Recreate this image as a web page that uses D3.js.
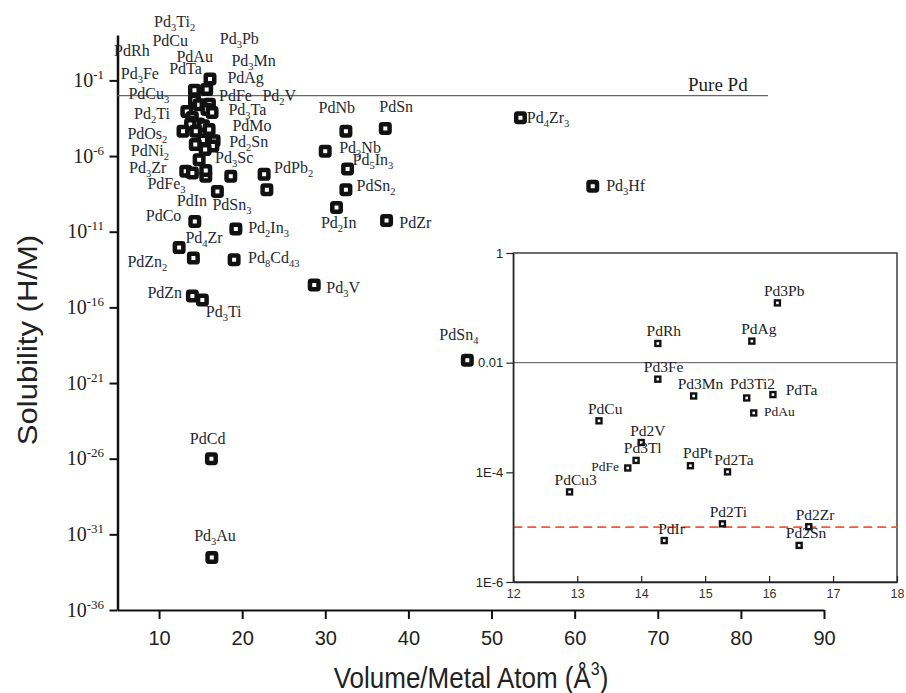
<!DOCTYPE html>
<html>
<head>
<meta charset="utf-8">
<script src="https://cdn.jsdelivr.net/npm/d3@7"></script>
<style>
  body { margin: 0; background: #fff; }
  svg { display: block; }
</style>
</head>
<body>
<div id="chart"></div>
<script>
// ---- data (inset compounds, also plotted in the main panel) ----
const insetNames = ["Pd3Pb","PdAg","PdRh","Pd3Fe","Pd3Mn","Pd3Ti2","PdTa","PdAu","PdCu","Pd2V",
                    "Pd3Tl","PdFe","PdPt","Pd2Ta","PdCu3","Pd2Ti","PdIr","Pd2Zr","Pd2Sn"];
const insetVolume = [16.13,15.73,14.26,14.26,14.82,15.65,16.06,15.76,13.34,14.00,
                     13.92,13.79,14.77,15.35,12.88,15.27,14.36,16.62,16.47];
const insetSolubility = [0.123,0.0247,0.0224,0.0050,0.00247,0.00227,0.00262,0.00121,8.7e-4,3.5e-4,
                         1.65e-4,1.2e-4,1.32e-4,1.02e-4,4.4e-5,1.15e-5,5.7e-6,1.02e-5,4.65e-6];

// ---- data (compounds only in the main panel), null = unlabelled point ----
const otherNames = ["PdOs2","PdNi2","Pd3Ta","PdMo","Pd3Sc","Pd3Zr","PdFe3","PdIn",null,null,
                    "PdSn3","PdPb2",null,"PdCo","Pd2In3","Pd4Zr","PdZn2","Pd8Cd43","PdZn","Pd3Ti",
                    "Pd3V","PdNb","PdSn","Pd3Nb","Pd5In3","PdSn2","Pd2In","PdZr","Pd4Zr3","Pd3Hf",
                    "PdSn4","PdCd","Pd3Au"];
const otherVolume = [14.42,15.54,16.38,16.02,14.82,13.21,14.01,15.62,15.62,18.63,
                     17.02,22.64,22.97,14.30,19.24,14.13,12.41,19.03,14.01,15.21,
                     28.67,32.48,37.22,29.99,32.68,32.48,31.35,37.37,53.48,62.18,
                     47.09,16.30,16.35];
const otherSolubility = [4.4e-5,2.7e-6,7.6e-4,5.6e-5,5.8e-7,1.0e-7,7.6e-8,4.6e-8,1.1e-7,4.6e-8,
                         4.6e-9,6.2e-8,6e-9,4.8e-11,1.5e-11,1.8e-13,8.9e-13,1.4e-13,5.6e-16,3.1e-16,
                         3e-15,4.4e-5,6.6e-5,2.1e-6,1.4e-7,6e-9,4e-10,5.5e-11,3.4e-4,1e-8,
                         3.2e-20,1e-26,3e-33];

const pureSolubility = 0.01;      // Pure Pd
const dashedSolubility = 1e-5;    // red reference in the inset

const xTicksMain = [10,20,30,40,50,60,70,80,90];
const yExpMain = [-1,-6,-11,-16,-21,-26,-31,-36];
const xTicksInset = [12,13,14,15,16,17,18];
const yTicksInset = [1, 0.01, 1e-4, 1e-6];
const yTickLabelsInset = ["1","0.01","1E-4","1E-6"];

// ---- label layout: offset of label start/baseline from marker (px) ----
const mainLabelPos = {
  Pd3Pb:[9.8,-34.9], PdRh:[-80.4,-34.1], PdAg:[20.7,-6.9], Pd3Fe:[-73.7,-21.3], PdTa:[-40.3,-30.6],
  Pd3Ti2:[-51.9,-78.1], Pd3Mn:[32.3,-39.2], PdAu:[-30.5,-47.3], PdCu:[-34.4,-65.9], Pd2V:[70.1,-16.9],
  PdFe:[28.5,-23.9], PdCu3:[-54.6,-32.6], Pd2Ti:[-68.8,-21.5], Pd2Sn:[16.3,0.6],
  PdOs2:[-68.4,8.3], PdNi2:[-74.3,6], Pd3Ta:[16.3,3], PdMo:[23.3,1.7], Pd3Sc:[16,3.3],
  Pd3Zr:[-56.7,2], PdFe3:[-45,16], PdIn:[-29,30], PdSn3:[-5,18.3], PdPb2:[10,-1.4],
  PdCo:[-49,0], Pd2In3:[12.3,4], Pd4Zr:[-8,-15.6], PdZn2:[-51.7,19], Pd8Cd43:[14,3.3],
  PdZn:[-45,2.3], Pd3Ti:[3.4,16.7], Pd3V:[12,8], PdNb:[-27.4,-18.4], PdSn:[-6,-16.3],
  Pd3Nb:[14,1.6], Pd5In3:[5,-4.3], PdSn2:[10.6,1], Pd2In:[-15.6,20.6], PdZr:[12.7,7.6],
  Pd4Zr3:[6.3,5], Pd3Hf:[13.4,5], PdSn4:[-28,-20], PdCd:[-21.6,-15], Pd3Au:[-17.7,-16.7]
};
const insetLabelPos = {
  Pd3Pb:[-13.4,-6.6], PdAg:[-10.6,-6.7], PdRh:[-11.3,-7.3], Pd3Fe:[-14,-6.7], Pd3Mn:[-16,-6.7],
  Pd3Ti2:[-16.7,-8.7], PdTa:[12.7,0.7], PdAu:[10.3,3,"start",13.5], PdCu:[-11,-6.7], Pd2V:[-11,-6.6],
  Pd3Tl:[-12.3,-7], PdFe:[-8.7,3.3,"end",13.5], PdPt:[-7.4,-7.4], Pd2Ta:[-13.4,-6.7],
  PdCu3:[-15,-6.7], Pd2Ti:[-12.7,-6.7], PdIr:[-6,-6.7], Pd2Zr:[-13,-6.7], Pd2Sn:[-13.3,-7.4]
};

const W = 906, H = 693;
const serif = "'Liberation Serif', 'DejaVu Serif', serif";
const sans = "'Liberation Sans', Arial, sans-serif";
const labelColor = "#1e2833";

const svg = d3.select("#chart").append("svg")
    .attr("width", W)
    .attr("height", H);

// scales
const x = d3.scaleLinear().domain([5, 90]).range([117.5, 824]);
const y = d3.scaleLog().domain([1e-36, 1e2]).range([610, 35]);
const xi = d3.scaleLinear().domain([12, 18]).range([513.3, 897]);
const yi = d3.scaleLog().domain([1e-6, 1]).range([582, 253]);

// rows
const insetData = insetNames.map((n, i) => ({name: n, v: insetVolume[i], s: insetSolubility[i]}));
const otherData = otherNames.map((n, i) => ({name: n, v: otherVolume[i], s: otherSolubility[i]}));
const mainData = insetData.concat(otherData);

// chemical formula with subscripted digits
function chem(text, str, size, subSize, shift) {
    let down = false;
    str.match(/[A-Za-z]+|\d+/g).forEach(p => {
        let t = text.append("tspan").text(p);
        if (/^\d/.test(p)) {
            t.attr("font-size", subSize).attr("dy", down ? 0 : shift);
            down = true;
        } else {
            t.attr("font-size", size);
            if (down) { t.attr("dy", -shift); down = false; }
        }
    });
}

// ---- main axes ----
let gx = svg.append("g").attr("transform", "translate(0,610)");
gx.call(d3.axisBottom(x).tickValues(d3.range(15, 90, 10)).tickSize(5).tickSizeOuter(0).tickFormat(""));
gx.call(d3.axisBottom(x).tickValues(xTicksMain).tickSize(9).tickSizeOuter(0).tickPadding(12)
    .tickFormat(d3.format("d")));
gx.selectAll("path.domain").attr("stroke", "#111").attr("stroke-width", 2);
gx.selectAll(".tick line").attr("stroke", "#111").attr("stroke-width", 2);
gx.selectAll(".tick text")
    .attr("font-family", sans).attr("font-size", 20).attr("fill", "#222");

let gy = svg.append("g").attr("transform", "translate(117.5,0)");
gy.call(d3.axisLeft(y).tickValues(d3.range(-36, 3).map(e => Math.pow(10, e))).tickSize(4).tickSizeOuter(0).tickFormat(""));
gy.call(d3.axisLeft(y).tickValues(yExpMain.map(e => Math.pow(10, e))).tickSize(8).tickSizeOuter(0).tickPadding(5.5));
gy.selectAll("path.domain").attr("stroke", "#111").attr("stroke-width", 2.5);
gy.selectAll(".tick line").attr("stroke", "#111").attr("stroke-width", 2);
gy.selectAll(".tick text").each(function(d) {
    let t = d3.select(this);
    if (t.text() === "") return;
    t.text(null).attr("dy", null).attr("y", 6)
        .attr("font-family", serif).attr("fill", "#222");
    t.append("tspan").attr("font-size", 20).text("10");
    t.append("tspan").attr("font-size", 13).attr("dy", -8).text(Math.round(Math.log10(d)));
});

// axis titles
svg.append("g")
    .attr("transform", "translate(471,688) scale(1,1.15)")
    .append("text")
    .attr("text-anchor", "middle")
    .attr("font-family", sans).attr("font-size", 26).attr("fill", "#222")
    .call(t => {
        t.append("tspan").text("Volume/Metal Atom (Å");
        t.append("tspan").attr("font-size", 16).attr("dy", -11).text("3");
        t.append("tspan").attr("dy", 11).text(")");
    });

svg.append("g")
    .attr("transform", "translate(28,340) rotate(-90) scale(1.15,1)")
    .append("text")
    .attr("text-anchor", "middle")
    .attr("y", 9)
    .attr("font-family", sans).attr("font-size", 27).attr("fill", "#222")
    .text("Solubility (H/M)");

// Pure Pd line
svg.append("line")
    .attr("x1", x(5)).attr("x2", 768)
    .attr("y1", y(pureSolubility)).attr("y2", y(pureSolubility))
    .attr("stroke", "#666").attr("stroke-width", 1.2);
svg.append("text")
    .attr("x", 688).attr("y", y(pureSolubility) - 5)
    .attr("font-family", serif).attr("font-size", 19).attr("fill", "#222")
    .text("Pure Pd");

// main markers
svg.append("g").selectAll("rect")
    .data(mainData)
    .enter()
    .append("rect")
    .attr("x", d => x(d.v) - 4.25)
    .attr("y", d => y(d.s) - 4.25)
    .attr("width", 8.5).attr("height", 8.5)
    .attr("rx", 1.2)
    .attr("fill", "#fff").attr("stroke", "#111").attr("stroke-width", 4.5);

// main labels
svg.append("g").selectAll("text")
    .data(mainData.filter(d => d.name && mainLabelPos[d.name]))
    .enter()
    .append("text")
    .attr("x", d => x(d.v) + mainLabelPos[d.name][0])
    .attr("y", d => y(d.s) + mainLabelPos[d.name][1])
    .attr("font-family", serif).attr("fill", labelColor)
    .each(function(d) { chem(d3.select(this), d.name, 16, 10.5, 4); });

// ---- inset ----
let inset = svg.append("g");
inset.append("rect")
    .attr("x", xi(12)).attr("y", yi(1))
    .attr("width", xi(18) - xi(12)).attr("height", yi(1e-6) - yi(1))
    .attr("fill", "#fff").attr("stroke", "#222").attr("stroke-width", 1.3);

inset.append("line")
    .attr("x1", xi(12)).attr("x2", xi(18))
    .attr("y1", yi(pureSolubility)).attr("y2", yi(pureSolubility))
    .attr("stroke", "#555").attr("stroke-width", 1);
inset.append("line")
    .attr("x1", xi(12)).attr("x2", xi(18))
    .attr("y1", yi(dashedSolubility)).attr("y2", yi(dashedSolubility))
    .attr("stroke", "#f25a35").attr("stroke-width", 1.6)
    .attr("stroke-dasharray", "9,5");

let gxi = inset.append("g").attr("transform", `translate(0,${yi(1e-6)})`);
gxi.call(d3.axisBottom(xi).tickValues(d3.range(12.5, 18, 1)).tickSize(-4).tickSizeOuter(0).tickFormat(""));
gxi.call(d3.axisBottom(xi).tickValues(xTicksInset).tickSize(-6).tickSizeOuter(0).tickPadding(7.4)
    .tickFormat(d3.format("d")));
gxi.selectAll(".tick text").attr("font-family", sans).attr("font-size", 12.5).attr("fill", "#333");

let gyi = inset.append("g").attr("transform", `translate(${xi(12)},0)`);
gyi.call(d3.axisLeft(yi).tickValues([0.1, 1e-3, 1e-5]).tickSize(-4).tickSizeOuter(0).tickFormat(""));
gyi.call(d3.axisLeft(yi).tickValues(yTicksInset).tickSize(7).tickSizeOuter(0).tickPadding(3)
    .tickFormat((d, i) => yTickLabelsInset[i]));
gyi.selectAll(".tick text").attr("font-family", sans).attr("font-size", 13).attr("fill", "#222");
inset.selectAll("path.domain").attr("stroke", "#222").attr("stroke-width", 1.3);
inset.selectAll(".tick line").attr("stroke", "#222").attr("stroke-width", 1.2);

inset.append("g").selectAll("rect")
    .data(insetData)
    .enter()
    .append("rect")
    .attr("x", d => xi(d.v) - 2.5)
    .attr("y", d => yi(d.s) - 2.5)
    .attr("width", 5).attr("height", 5)
    .attr("fill", "#fff").attr("stroke", "#111").attr("stroke-width", 2.4);

inset.append("g").selectAll("text")
    .data(insetData)
    .enter()
    .append("text")
    .attr("x", d => xi(d.v) + insetLabelPos[d.name][0])
    .attr("y", d => yi(d.s) + insetLabelPos[d.name][1])
    .attr("text-anchor", d => insetLabelPos[d.name][2] || "start")
    .attr("font-size", d => insetLabelPos[d.name][3] || 15.5)
    .attr("font-family", serif).attr("fill", "#222")
    .text(d => d.name);
</script>
</body>
</html>
